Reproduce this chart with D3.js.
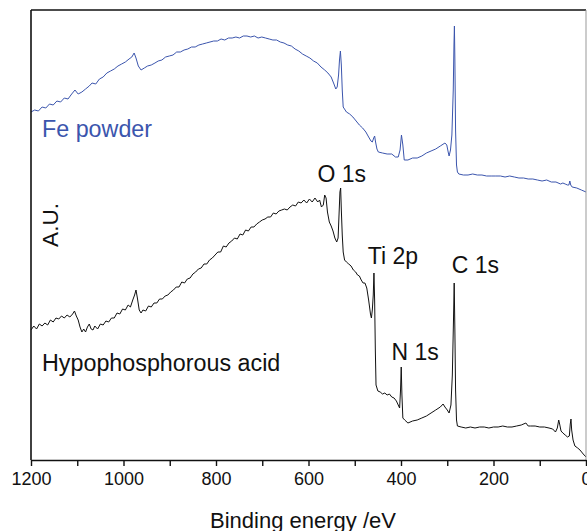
<!DOCTYPE html>
<html><head><meta charset="utf-8">
<script src="https://cdn.jsdelivr.net/npm/d3@7"></script>
<style>html,body{margin:0;padding:0;background:#fff;}svg{display:block;font-family:"Liberation Sans",Arial,sans-serif;}</style>
</head><body>
<script>
// Binding energy (eV) and intensity (arbitrary units)
const feEnergy = [1200,1192,1184,1176,1168,1160,1152,1144,1136,1128,1120,1112,1105,1098,1090,1082,1074,1068,1060,1052,1044,1036,1028,1020,1012,1004,996,988,982,977,973,968,962,955,948,940,932,925,917,909,901,893,885,877,869,861,853,845,837,829,821,813,805,797,789,781,773,765,757,749,741,733,725,717,709,701,693,685,677,669,661,653,645,637,629,621,613,605,597,589,581,573,565,558,551,545,541,538,535,533,531,529,527,525,518,511,504,497,490,483,476,470,465,462,459,457,455,452,449,440,430,420,412,406,402,399,396,393,385,375,365,355,345,335,325,315,305,301,298,296,293,290,287,285.5,284.5,283.5,282,280,278,275,265,255,245,235,225,215,205,195,185,175,165,155,145,135,125,115,105,95,85,75,65,55,50,45,40,37,35,33,30,20,10,0];
const feIntensity = [348,350,349,353,352,356,355,359,358,362,361,366,370,366,368,371,374,377,376,381,383,387,389,391,394,396,398,401,403,407,402,394,390,392,394,395,397,399,400,403,404,405,408,408,410,411,413,413,415,416,417,418,419,419,421,420,422,422,423,422,424,424,423,424,422,423,422,421,420,420,418,417,415,414,411,409,406,404,402,399,397,393,390,387,383,376,371,373,385,400,409,395,370,353,348,346,343,339,335,332,328,323,319,318,322,324,318,311,308,307,306,306,303,303,310,325,315,300,300,302,302,304,307,309,311,314,317,315,308,304,310,325,370,415,434,400,330,295,288,286,285,285,286,285,285,284,284,284,284,283,284,283,282,282,281,281,280,279,280,278,278,276,277,276,275,275,279,275,273,272,270,268];

const haEnergy = [1200,1194,1188,1182,1176,1170,1164,1158,1152,1146,1140,1134,1128,1122,1116,1110,1106,1102,1098,1094,1090,1086,1082,1078,1074,1070,1066,1062,1056,1050,1044,1038,1032,1026,1020,1014,1008,1002,996,990,985,980,976,973,970,966,962,958,952,946,940,934,928,922,916,910,904,898,892,886,880,874,868,862,856,850,844,838,832,826,820,814,808,802,796,790,784,778,772,766,760,754,748,742,736,730,724,718,712,706,700,694,688,682,676,670,664,658,652,646,640,634,628,622,616,610,604,598,592,586,580,576,572,568,565,562,559,555,551,547,543,539,536,534,532,530.5,529,527,525,522,518,513,508,503,498,494,490,486,482,478,474,470,466,464,462,460,458.5,457,455.5,454,450,445,440,435,430,425,420,415,410,406,403,401,399.5,398,396,392,385,375,365,355,345,335,325,315,309,305,300,296,292,289,286.5,285,283.5,282,280,278,270,260,250,240,230,220,210,200,190,180,170,160,150,140,130,125,120,110,100,90,80,72,66,62,59,57,54,50,45,40,36,34,32.5,31,28,24,18,13,6,0];
const haIntensity = [130,134,131,136,134,137,135,140,138,142,141,144,142,145,143,146,149,144,140,133,128,131,128,133,136,131,130,134,131,136,135,139,138,142,142,147,146,151,150,155,153,160,165,170,162,150,147,150,149,154,153,157,157,161,161,164,165,168,170,173,173,178,177,181,182,186,188,191,192,196,196,200,202,205,208,208,214,213,217,219,222,221,226,225,230,229,233,233,236,238,240,241,243,243,247,246,249,250,251,250,253,255,254,258,257,260,257,261,258,262,258,260,253,255,265,262,248,238,234,229,222,218,222,245,268,272,250,225,208,200,198,196,194,190,188,185,184,180,177,177,172,160,146,142,150,165,187,160,110,75,69,68,66,67,65,66,63,62,59,55,52,70,93,65,42,40,37,39,40,42,44,47,50,53,56,53,50,47,55,85,140,177,130,70,40,34,33,32,33,32,33,33,32,33,33,34,33,33,34,35,37,34,34,34,33,33,32,31,28,32,40,36,29,27,25,23,24,36,41,30,20,14,12,10,6,3];

const xTicks = [1200,1100,1000,900,800,700,600,500,400,300,200,100,0];
const xTickLabels = [1200,1000,800,600,400,200,0];
const seriesNames = ["Fe powder","Hypophosphorous acid"];
const peakNames = ["O 1s","Ti 2p","C 1s","N 1s"];
const peakEnergy = [531,459,284,399];

const W=587,H=531;
const svg=d3.select("body").append("svg").attr("width",W).attr("height",H);
const x=d3.scaleLinear().domain([1200,0]).range([31,586]);
const y=d3.scaleLinear().domain([0,450]).range([460,10]);

const line=d3.line().x(d=>x(d[0])).y(d=>y(d[1]));
const blue="#3b55ad";

svg.append("path").datum(feEnergy.map((e,i)=>[e,feIntensity[i]]))
  .attr("d",line).attr("fill","none").attr("stroke",blue).attr("stroke-width",1).attr("stroke-linejoin","round");
svg.append("path").datum(haEnergy.map((e,i)=>[e,haIntensity[i]]))
  .attr("d",line).attr("fill","none").attr("stroke","#111").attr("stroke-width",1).attr("stroke-linejoin","round");

// frame
svg.append("line").attr("x1",x(1200)).attr("x2",x(0)).attr("y1",y(450)).attr("y2",y(450)).attr("stroke","#111").attr("stroke-width",1.6);
svg.append("line").attr("x1",x(1200)).attr("x2",x(1200)).attr("y1",y(450)).attr("y2",y(0)).attr("stroke","#111").attr("stroke-width",1.6);
svg.append("line").attr("x1",x(0)).attr("x2",x(0)).attr("y1",y(450)).attr("y2",y(0)).attr("stroke","#999").attr("stroke-width",1);

// x axis
const ax=d3.axisBottom(x).tickValues(xTicks).tickSizeInner(6).tickSizeOuter(0)
  .tickFormat(d=>xTickLabels.includes(d)?d:"");
const g=svg.append("g").attr("transform",`translate(0,${y(0)})`).call(ax);
g.select(".domain").attr("stroke","#111").attr("stroke-width",1.6);
g.selectAll(".tick line").attr("stroke","#111").attr("stroke-width",1.4);
g.selectAll(".tick text").attr("font-size",18).attr("fill","#111").attr("dy",null).attr("y",25)
  .attr("font-family","Liberation Sans, Arial, sans-serif");

svg.append("text").attr("x",303).attr("y",528).attr("text-anchor","middle").attr("font-size",22).attr("fill","#111").text("Binding energy /eV");
svg.append("text").attr("transform","translate(58,225) rotate(-90)").attr("text-anchor","middle").attr("font-size",22.5).attr("fill","#111").text("A.U.");

svg.append("text").attr("x",42).attr("y",137).attr("font-size",23.3).attr("fill",blue).text(seriesNames[0]);
svg.append("text").attr("x",42).attr("y",371).attr("font-size",23.3).attr("fill","#111").text(seriesNames[1]);

const peakDx=[-23,-6,-3,-10];
const peakY=[182,264,273,360];
peakNames.forEach((n,i)=>{
  svg.append("text").attr("x",x(peakEnergy[i])+peakDx[i]).attr("y",peakY[i]).attr("font-size",23).attr("fill","#111").text(n);
});
</script>
</body></html>
